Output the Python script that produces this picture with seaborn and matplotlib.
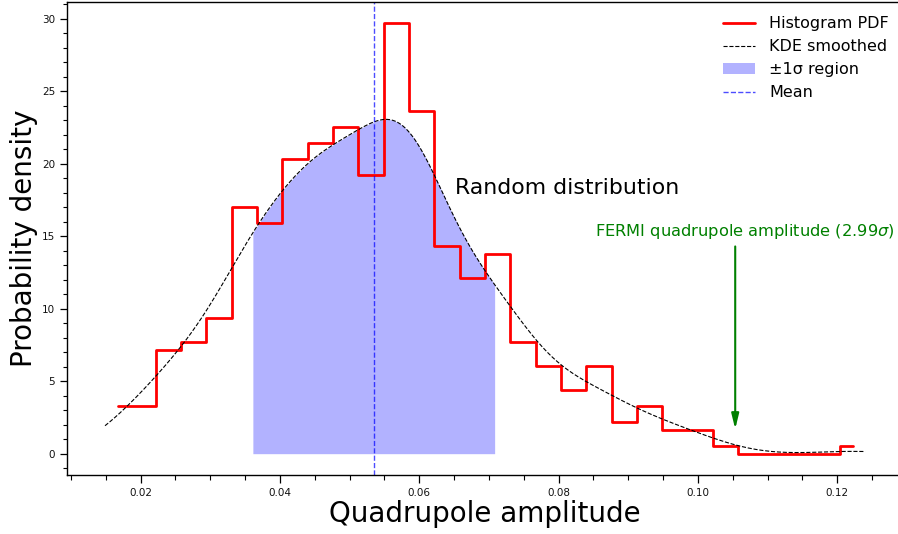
import numpy as np
import matplotlib
matplotlib.use("Agg")
import matplotlib.pyplot as plt
from matplotlib.ticker import MultipleLocator, FormatStrFormatter
import seaborn as sns

# Sample summary
n_samples = 500
amp_min, amp_max = 0.0149, 0.1240
n_bins = 30

# Histogram counts per bin (30 equal bins spanning amp_min..amp_max)
bin_counts = [6, 6, 13, 14, 17, 31, 29, 37, 39, 41,
              35, 54, 43, 26, 22, 25, 14, 11, 8, 11,
              4, 6, 3, 3, 1, 0, 0, 0, 0, 1]

# Distribution moments and the observed value
amp_mean = 0.05347
amp_std = 0.01735
fermi_sigma = 2.99

# Annotation placement
arrow_top, arrow_tip = 14.3, 1.7
fermi_text_x, fermi_text_y = 0.1067, 15.0
random_text_x, random_text_y = 0.0651, 17.9

sns.set_style("ticks")
plt.rcParams.update({
    "font.family": ["DejaVu Sans"],
    "text.color": "black",
    "axes.labelcolor": "black",
    "axes.edgecolor": "black",
    "axes.linewidth": 1.0,
    "xtick.color": "black",
    "ytick.color": "black",
    "xtick.labelcolor": "#111111",
    "ytick.labelcolor": "#111111",
    "xtick.major.size": 6.0,
    "ytick.major.size": 5.0,
    "xtick.minor.size": 3.8,
    "ytick.minor.size": 3.2,
    "xtick.major.width": 0.9,
    "ytick.major.width": 0.9,
    "xtick.minor.width": 0.8,
    "ytick.minor.width": 0.8,
})

fig = plt.figure(figsize=(8.98, 5.34), dpi=100)
ax = fig.add_axes([0.07461, 0.11011, 0.93118, 0.88652])

counts = np.asarray(bin_counts)
width = (amp_max - amp_min) / n_bins
centers = amp_min + width * (np.arange(n_bins) + 0.5)
density = counts / (n_samples * width)
samples = np.repeat(centers, counts)

sns.lineplot(x=centers, y=density, drawstyle="steps-mid", color="red", lw=2,
             label="Histogram PDF", ax=ax, sort=False)
sns.kdeplot(x=samples, cut=3, clip=(amp_min, amp_max), gridsize=300,
            color="black", lw=0.8, ls="--", label="KDE smoothed", ax=ax)
kx, ky = ax.lines[-1].get_data()

# Shade one standard deviation around the mean under the KDE curve
lo, hi = amp_mean - amp_std, amp_mean + amp_std
inside = (kx > lo) & (kx < hi)
fx = np.concatenate([[lo], kx[inside], [hi]])
fy = np.interp(fx, kx, ky)
ax.fill_between(fx, 0, fy, color="blue", alpha=0.3, lw=0, label="\u00b11\u03c3 region")

ax.axvline(amp_mean, color="blue", ls="--", lw=1.0, alpha=0.7, label="Mean")

fermi_amp = amp_mean + fermi_sigma * amp_std
ax.annotate("", xy=(fermi_amp, arrow_tip), xytext=(fermi_amp, arrow_top),
            arrowprops=dict(arrowstyle="-|>,head_length=0.9,head_width=0.22",
                            color="green", lw=1.5, shrinkA=0, shrinkB=0,
                            mutation_scale=10))
ax.text(fermi_text_x, fermi_text_y,
        f"FERMI quadrupole amplitude ({fermi_sigma:.2f}$\\sigma$)",
        color="green", fontsize=11.7, ha="center", va="baseline")
ax.text(random_text_x, random_text_y, "Random distribution",
        fontsize=15.8, ha="left", va="baseline", color="black")

ax.set_xlim(amp_min - 0.05 * (amp_max - amp_min), amp_max + 0.05 * (amp_max - amp_min))
ymax = density.max()
ax.set_ylim(-0.05 * ymax, 1.05 * ymax)
ax.spines["right"].set_visible(False)

ax.xaxis.set_major_locator(MultipleLocator(0.02))
ax.xaxis.set_minor_locator(MultipleLocator(0.005))
ax.xaxis.set_major_formatter(FormatStrFormatter("%.2f"))
ax.yaxis.set_major_locator(MultipleLocator(5))
ax.yaxis.set_minor_locator(MultipleLocator(1))
ax.tick_params(axis="both", which="major", labelsize=7.5)

ax.set_xlabel("Quadrupole amplitude", fontsize=20, labelpad=1.5)
ax.set_ylabel("Probability density", fontsize=20, labelpad=3)

ax.legend(loc="upper right", frameon=False, fontsize=11.5,
          handlelength=2.0, handletextpad=0.9, labelcolor="black")

fig.savefig("out.png", dpi=100)
